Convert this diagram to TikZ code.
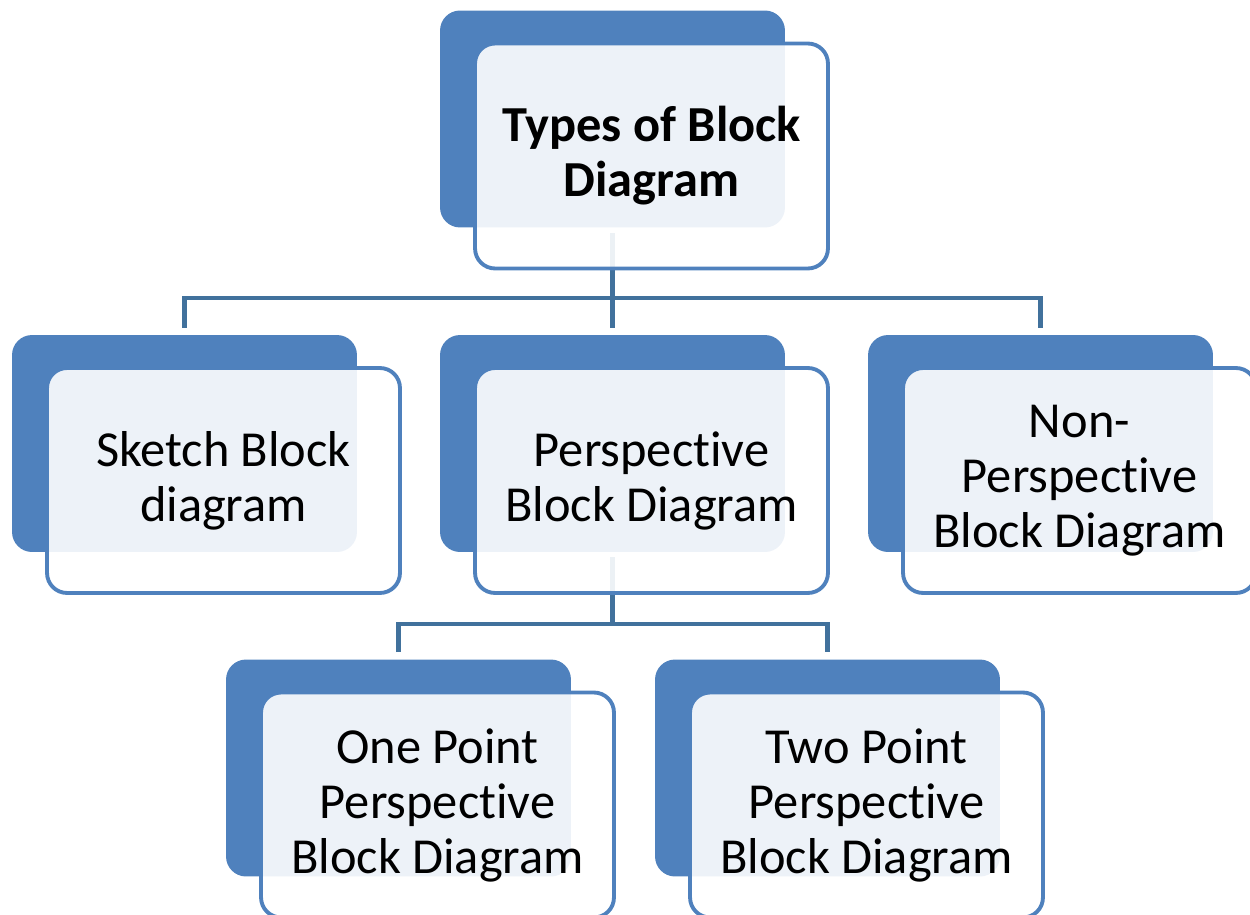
\documentclass[tikz,border=0pt]{standalone}
\usepackage{fontspec}
\setmainfont{Carlito}[Ligatures={NoCommon}]
\definecolor{blockblue}{HTML}{4F81BD}
\definecolor{linkblue}{HTML}{41719C}
\tikzset{
  back/.style={rectangle, rounded corners=0.4cm, fill=blockblue,
    minimum width=6.9cm, minimum height=4.34cm},
  front/.style={rectangle, rounded corners=0.4cm, draw=blockblue, line width=2.2pt,
    fill=white, fill opacity=0.9, text opacity=1, align=center,
    minimum width=7.06cm, minimum height=4.5cm,
    font=\fontsize{28.7pt}{31.3pt}\selectfont},
  title/.style={font=\fontsize{28.7pt}{31.3pt}\selectfont\bfseries},
  link/.style={draw=linkblue, line width=2.6pt},
}

\begin{document}
\begin{tikzpicture}[x=0.02cm,y=-0.02cm]
  \useasboundingbox (0,0) rectangle (1250,915);
  \def\dx{39}
  \def\dy{37}
  % back plates
  \node[back] (A0_2) at (612.5,119) {};
  \node[back] (A1_0) at (184.5,443.5) {};
  \node[back] (A1_2) at (612.5,443.5) {};
  \node[back] (A1_4) at (1040.5,443.5) {};
  \node[back] (A2_1) at (398.5,768) {};
  \node[back] (A2_3) at (827.5,768) {};
  % links
  \coordinate (J0) at (612.5,298);
  \coordinate (J1) at (612.5,624);
  \draw[link,shorten <=0.14cm,shorten >=0.14cm] (A1_0.north) |- (J0) -| (A1_4.north);
  \draw[link,shorten <=0.1cm,shorten >=0.14cm] (A0_2.south) -- (A1_2.north);
  \draw[link,shorten <=0.14cm,shorten >=0.14cm] (A2_1.north) |- (J1) -| (A2_3.north);
  \draw[link,shorten <=0.1cm] (A1_2.south) -- (J1);
  % front panels
  \node[front,title] (B0_2) at ([shift={(\dx,\dy)}]A0_2) {Types of Block\\Diagram};
  \node[front] (B1_0) at ([shift={(\dx,\dy)}]A1_0) {Sketch Block\\diagram};
  \node[front] (B1_2) at ([shift={(\dx,\dy)}]A1_2) {Perspective\\Block Diagram};
  \node[front] (B1_4) at ([shift={(\dx,\dy)}]A1_4) {Non-\\Perspective\\Block Diagram};
  \node[front] (B2_1) at ([shift={(\dx,\dy)}]A2_1) {One Point\\Perspective\\Block Diagram};
  \node[front] (B2_3) at ([shift={(\dx,\dy)}]A2_3) {Two Point\\Perspective\\Block Diagram};
\end{tikzpicture}
\end{document}
